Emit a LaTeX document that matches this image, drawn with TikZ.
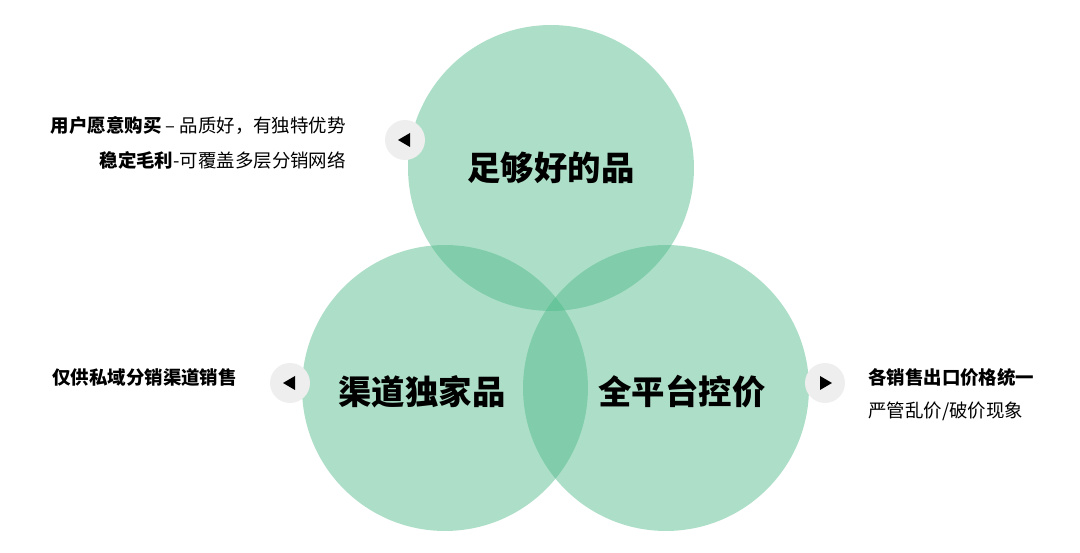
\documentclass[tikz,border=0pt]{standalone}
\usepackage{fontspec}
\setmainfont{Noto Sans CJK SC}
\definecolor{ringgreen}{RGB}{74,184,134}
\definecolor{knobgray}{RGB}{238,238,238}
\begin{document}
\begin{tikzpicture}
        [x=0.02cm,y=-0.02cm,
         ring/.style={circle,fill=ringgreen,fill opacity=0.45,minimum size=5.72cm,inner sep=0pt},
         knob/.style={circle,fill=knobgray,minimum size=0.8cm,inner sep=0pt},
         title/.style={font=\fontsize{19}{22}\selectfont\bfseries},
         note/.style={font=\fontsize{10.5}{13}\selectfont}]
        \useasboundingbox (0,0) rectangle (1080,553);
        % rings
        \node[ring] (Top)   at (551,168) {};
        \node[ring] (Left)  at (445,388) {};
        \node[ring] (Right) at (666,388) {};
        \node[title] (TopT)   at (551,168) {足够好的品};
        \node[title] (LeftT)  at (422,392) {渠道独家品};
        \node[title] (RightT) at (682,392) {全平台控价};

        % knobs with arrow heads
        \node[knob] (K1) at (405,140) {};
        \node[knob] (K2) at (290,383) {};
        \node[knob] (K3) at (825,383) {};
        \fill (K1.center) ++(-7,0) -- ++(12,-7) -- ++(0,14) -- cycle;
        \fill (K2.center) ++(-7,0) -- ++(12,-7) -- ++(0,14) -- cycle;
        \fill (K3.center) ++(7,0) -- ++(-12,-7) -- ++(0,14) -- cycle;

        % notes
        \node[note,anchor=east] (N1) at (352,125) {\textbf{用户愿意购买} – 品质好，有独特优势};
        \node[note,anchor=east] (N2) at (352,160) {\textbf{稳定毛利}-可覆盖多层分销网络};
        \node[note,anchor=east] (N3) at (243,378) {\textbf{仅供私域分销渠道销售}};
        \node[note,anchor=west] (N4) at (862,377) {\textbf{各销售出口价格统一}};
        \node[note,anchor=west] (N5) at (862,411) {严管乱价/破价现象};
\end{tikzpicture}
\end{document}
